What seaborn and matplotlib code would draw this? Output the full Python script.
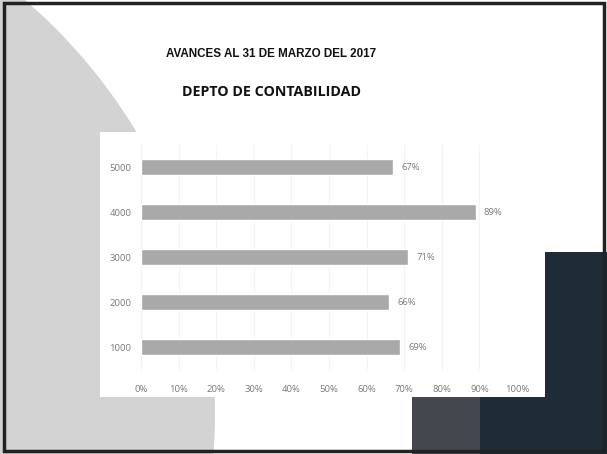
import matplotlib.pyplot as plt
import matplotlib.patches as mpatches
import seaborn as sns
import pandas as pd

# data
areas = ['5000', '4000', '3000', '2000', '1000']
avance = [0.67, 0.89, 0.71, 0.66, 0.69]
etiquetas = ['67%', '89%', '71%', '66%', '69%']
ticks = [0, 0.1, 0.2, 0.3, 0.4, 0.5, 0.6, 0.7, 0.8, 0.9, 1.0]
tick_labels = ['0%', '10%', '20%', '30%', '40%', '50%', '60%', '70%', '80%', '90%', '100%']

df = pd.DataFrame({'AREA': areas, 'AVANCE': avance})

sns.set_style("white")
plt.rcParams['font.family'] = ['Open Sans', 'DejaVu Sans']

fig = plt.figure(figsize=(6.07, 4.54), dpi=100)

# slide background, drawn in pixel coords
bg = fig.add_axes([0, 0, 1, 1], zorder=0)
bg.set_xlim(0, 607)
bg.set_ylim(454, 0)
bg.axis('off')
bg.add_patch(mpatches.Circle((-331, 414), 546, color='#d3d3d3', lw=0))
bg.add_patch(mpatches.Rectangle((412, 252), 195, 202, color='#44484e', lw=0))
bg.add_patch(mpatches.Rectangle((480, 252), 127, 202, color='#1f2c38', lw=0))
bg.add_patch(mpatches.Rectangle((100, 132), 445, 265, color='white', lw=0))
bg.add_patch(mpatches.Rectangle((4, 3), 600, 448, fill=False, ec='#222222', lw=2.5))

bg.text(271, 54, 'AVANCES AL 31 DE MARZO DEL 2017', ha='center', va='center',
        fontsize=8.4, fontweight='bold', family='Liberation Sans', color='#111111')
bg.text(272, 92, 'DEPTO DE CONTABILIDAD', ha='center', va='center',
        fontsize=10.3, fontweight='bold', color='#111111')

# chart
ax = fig.add_axes([141 / 607, 0.186, 376 / 607, 0.4956], zorder=1)
ax.patch.set_alpha(0)
sns.barplot(data=df, x='AVANCE', y='AREA', order=areas, orient='h',
            color='#a9a9a9', width=0.36, saturation=1, ax=ax)
ax.set_xlim(0, 1)
ax.set_ylim(4.5, -0.5)
ax.set_xticks(ticks)
ax.set_xticklabels(tick_labels)
ax.tick_params(axis='both', length=0, labelsize=6.8, labelcolor='#7a7a7a')
ax.tick_params(axis='x', pad=11)
ax.tick_params(axis='y', pad=7)
ax.set_xlabel('')
ax.set_ylabel('')
for x in ticks:
    ax.axvline(x, color='#f3f3f3', lw=0.8, zorder=0)
ax.bar_label(ax.containers[0], labels=etiquetas, padding=6, fontsize=6.8, color='#7a7a7a')
sns.despine(ax=ax, left=True, bottom=True)

plt.savefig('out.png', dpi=100)
